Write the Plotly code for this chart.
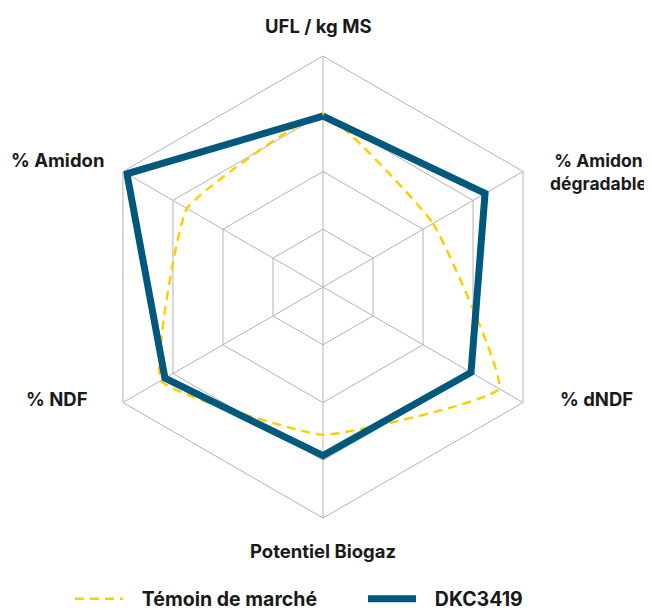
import plotly.graph_objects as go

categories = ["UFL / kg MS", "% Amidon dégradable", "% dNDF", "Potentiel Biogaz", "% NDF", "% Amidon"]
temoin_values = [75, 55, 88, 64, 81, 68]
dkc_values = [74, 81, 74, 73, 79, 98]
series_names = ["Témoin de marché", "DKC3419"]
radial_ticks = [25, 50, 75, 100]

W, H = 652, 610
OFF = 8  # page body margin
BLUE = "#00597C"
YELLOW = "#FFCD00"
GRID = "#B3B3B3"
FONT = "Inter"
NB = "\u00a0\u00a0\u00a0"

theta = categories + [categories[0]]

fig = go.Figure()
fig.add_trace(go.Scatterpolar(
    r=temoin_values + [temoin_values[0]], theta=theta, mode="lines",
    name=NB + series_names[0],
    line=dict(color=YELLOW, width=2.5, dash="9px,6px", shape="spline", smoothing=0.35),
))
fig.add_trace(go.Scatterpolar(
    r=dkc_values + [dkc_values[0]], theta=theta, mode="lines",
    name=NB + series_names[1],
    line=dict(color=BLUE, width=7),
))

def fx(px):
    return (px - OFF) / W

def fy(py):
    return 1 - (py - OFF) / H

cx, cy, R = 323, 287, 231
fig.update_layout(
    width=W, height=H,
    margin=dict(l=0, r=0, t=0, b=0, autoexpand=False),
    paper_bgcolor="white", plot_bgcolor="white",
    font=dict(family=FONT, color="#1A1A1A"),
    polar=dict(
        domain=dict(x=[fx(cx - R), fx(cx + R)], y=[fy(cy + R), fy(cy - R)]),
        gridshape="linear",
        bgcolor="white",
        radialaxis=dict(range=[0, 100], tickvals=radial_ticks, showticklabels=False, ticks="",
                        showline=False, gridcolor=GRID, gridwidth=1),
        angularaxis=dict(direction="clockwise", rotation=90, showticklabels=False, ticks="",
                         showline=True, linecolor=GRID, linewidth=1, gridcolor=GRID, gridwidth=1),
    ),
    showlegend=True,
    legend=dict(orientation="h", x=fx(70), xanchor="left", y=fy(599), yanchor="middle",
                font=dict(family=FONT, size=19.5, color="#1A1A1A", weight="bold"),
                itemwidth=48, entrywidth=230, bgcolor="rgba(0,0,0,0)"),
)

label_pos = [(318, 26), (598, 172), (596, 399), (323, 551), (57, 399), (57, 160)]
label_size = [18.5, 17.5, 18.5, 18.5, 18.5, 18.5]
label_text = ["UFL / kg MS", "% Amidon<br>dégradable", "% dNDF", "Potentiel Biogaz", "% NDF", "% Amidon"]
for (px, py), sz, txt in zip(label_pos, label_size, label_text):
    fig.add_annotation(x=fx(px), y=fy(py), xref="paper", yref="paper", text=txt,
                       showarrow=False, xanchor="center", yanchor="middle", align="center",
                       font=dict(family=FONT, size=sz, color="#1A1A1A", weight="bold"))

fig.write_html("out.html")
